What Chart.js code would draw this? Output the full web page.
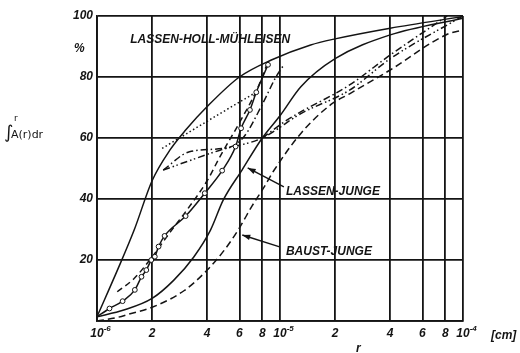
<!DOCTYPE html>
<html lang="de">
<head>
<meta charset="UTF-8">
<title>Verteilungskurven</title>
<script src="https://cdn.jsdelivr.net/npm/chart.js"></script>
<style>
  html, body { margin: 0; padding: 0; background: #fff; }
  #wrap { width: 520px; height: 353px; }
</style>
</head>
<body>
<div id="wrap"><canvas id="grafico" width="520" height="353"></canvas></div>
<script>
// Achsen
var xTicks = [1e-6, 2e-6, 4e-6, 6e-6, 8e-6, 1e-5, 2e-5, 4e-5, 6e-5, 8e-5, 1e-4];
var xTickLabels = ['10', '2', '4', '6', '8', '10', '2', '4', '6', '8', '10'];
var xTickExp = ['-6', '', '', '', '', '-5', '', '', '', '', '-4'];
var yTickLabels = ['', '20', '40', '60', '80', '100'];

// LASSEN-HOLL-MÜHLEISEN (ausgezogen, steil)
var lhmX = [1e-6, 1.3e-6, 1.6e-6, 2e-6, 2.5e-6, 3.05e-6, 4e-6, 6e-6, 8.9e-6, 1.47e-5, 2e-5, 4e-5, 1e-4];
var lhmY = [1.4, 17, 30, 46, 56, 62.6, 70.3, 80, 85.5, 90.5, 92.5, 96, 99.8];

// Messpunkte (Kreise)
var kreisX = [1e-6, 1.17e-6, 1.38e-6, 1.61e-6, 1.75e-6, 1.86e-6, 1.98e-6, 2.07e-6, 2.17e-6, 2.34e-6, 3.05e-6, 3.88e-6, 4.83e-6, 5.72e-6, 6.13e-6, 6.85e-6, 7.42e-6, 8.6e-6];
var kreisY = [1.4, 4.1, 6.5, 10.2, 14.5, 16.7, 20, 21.1, 24.4, 27.9, 34.4, 41.9, 49.3, 57.2, 63.2, 69.2, 75, 84];

// gestrichelt neben den Kreisen
var strichX = [1.29e-6, 1.6e-6, 2e-6, 2.5e-6, 3.1e-6, 4e-6, 4.7e-6, 6e-6, 7.5e-6, 8.6e-6];
var strichY = [9.6, 14, 21, 29, 36.4, 46, 53.9, 65, 76, 85];

// LASSEN-JUNGE (ausgezogen)
var ljX = [1e-6, 1.4e-6, 2e-6, 2.63e-6, 3.38e-6, 4.17e-6, 4.9e-6, 6.2e-6, 8e-6, 1e-5, 1.3e-5, 2e-5, 4e-5, 1e-4];
var ljY = [1.4, 3.6, 7.4, 13.4, 21, 29.8, 39.7, 49.5, 60, 67.3, 76.8, 86, 93.8, 99.3];

// BAUST-JUNGE (gestrichelt)
var bjX = [1e-6, 1.3e-6, 1.5e-6, 2e-6, 3e-6, 4e-6, 5e-6, 6e-6, 7e-6, 8.2e-6, 9.3e-6, 1.3e-5, 1.9e-5, 2.4e-5, 4e-5, 8.2e-5, 1e-4];
var bjY = [0, 1.2, 2.3, 4.5, 10, 16.7, 23.5, 30.5, 37.5, 44, 49.5, 61.5, 71, 74.5, 82.3, 94, 95.4];

// punktiert
var punktX = [2.27e-6, 4.7e-6, 7.4e-6];
var punktY = [56.6, 68, 75];

// strichpunktiert
var sp1X = [2.3e-6, 4.7e-6, 8e-6, 1.3e-5, 2.4e-5, 4e-5, 1e-4];
var sp1Y = [49.5, 56, 60, 68, 75.7, 86, 100];
var sp2X = [2.3e-6, 3.2e-6, 5.3e-6, 6.35e-6, 8e-6, 9.5e-6, 1.05e-5];
var sp2Y = [49.5, 55.5, 57, 60.4, 71, 80, 84];
var sp3X = [8e-6, 1.1e-5, 2.4e-5, 4e-5, 8.2e-5];
var sp3Y = [60, 66, 77.4, 87.2, 100];

function punkte(xs, ys) {
    return xs.map(function (x, i) { return { x: x, y: ys[i] }; });
}

function kurve(xs, ys, dash) {
    return {
        data: punkte(xs, ys),
        showLine: true,
        borderColor: '#141414',
        borderWidth: 1.5,
        borderDash: dash,
        pointRadius: 0,
        cubicInterpolationMode: 'monotone'
    };
}

var kreise = kurve(kreisX, kreisY, []);
kreise.pointRadius = function (ctx) { return ctx.dataIndex === 0 ? 0 : 2.4; };
kreise.pointBackgroundColor = '#fff';
kreise.pointBorderColor = '#141414';
kreise.pointBorderWidth = 1;

var schrift = 'italic bold 12px "Liberation Sans", Arial, sans-serif';
var klein = 'italic bold 8px "Liberation Sans", Arial, sans-serif';

var beschriftung = {
    id: 'beschriftung',
    afterDatasetsDraw: function (chart) {
        var c = chart.ctx, sx = chart.scales.x, sy = chart.scales.y;
        function px(v) { return sx.getPixelForValue(v); }
        function py(v) { return sy.getPixelForValue(v); }
        function pfeil(x1, y1, x2, y2) {
            var a = px(x1), b = py(y1), e = px(x2), f = py(y2);
            var w = Math.atan2(f - b, e - a);
            c.beginPath(); c.moveTo(a, b); c.lineTo(e, f); c.stroke();
            c.beginPath();
            c.moveTo(e, f);
            c.lineTo(e - 8 * Math.cos(w) + 2.8 * Math.sin(w), f - 8 * Math.sin(w) - 2.8 * Math.cos(w));
            c.lineTo(e - 8 * Math.cos(w) - 2.8 * Math.sin(w), f - 8 * Math.sin(w) + 2.8 * Math.cos(w));
            c.closePath(); c.fill();
        }
        c.save();
        c.fillStyle = '#141414';
        c.strokeStyle = '#141414';
        c.lineWidth = 1.4;
        c.font = schrift;
        c.textBaseline = 'middle';
        c.textAlign = 'left';
        c.fillText('LASSEN-HOLL-MÜHLEISEN', px(1.52e-6), py(92.1));
        c.fillText('LASSEN-JUNGE', px(1.077e-5), py(42.3));
        c.fillText('BAUST-JUNGE', px(1.077e-5), py(22.6));
        pfeil(1.05e-5, 44, 6.66e-6, 50.2);
        pfeil(9.96e-6, 24.3, 6.22e-6, 28.2);

        // x-Teilung mit Hochzahlen
        var unten = chart.chartArea.bottom + 13;
        xTicks.forEach(function (v, i) {
            var t = xTickLabels[i], x = px(v);
            c.font = schrift;
            c.textAlign = 'center';
            c.fillText(t, x, unten);
            if (xTickExp[i]) {
                var b = c.measureText(t).width;
                c.font = klein;
                c.textAlign = 'left';
                c.fillText(xTickExp[i], x + b / 2, unten - 5);
            }
        });

        // Achsenbeschriftung
        c.font = schrift;
        c.textAlign = 'left';
        c.fillText('%', 74, 49);
        c.fillText('[cm]', 491, 336);
        c.textBaseline = 'top';
        c.fillText('r', 356, 343);
        c.textBaseline = 'middle';
        c.font = '18px "DejaVu Sans", sans-serif';
        c.fillText('∫', 4, 133);
        c.font = '9px "DejaVu Sans", sans-serif';
        c.fillText('r', 14, 119);
        c.font = '11px "DejaVu Sans", sans-serif';
        c.fillText('A(r)dr', 11, 135);
        c.restore();
    }
};

var achse = { color: '#141414', lineWidth: 1.8, drawTicks: false };

new Chart(document.getElementById('grafico').getContext('2d'), {
    type: 'scatter',
    data: {
        datasets: [
            kurve(lhmX, lhmY, []),
            kreise,
            kurve(strichX, strichY, [6, 4]),
            kurve(ljX, ljY, []),
            kurve(bjX, bjY, [7, 4]),
            kurve(punktX, punktY, [1.5, 2.5]),
            kurve(sp1X, sp1Y, [7, 3, 1.5, 2.5, 1.5, 3]),
            kurve(sp2X, sp2Y, [7, 3, 1.5, 3]),
            kurve(sp3X, sp3Y, [7, 3, 1.5, 3])
        ]
    },
    options: {
        responsive: false,
        animation: false,
        layout: { padding: { top: 16, right: 57, left: 0, bottom: 0 } },
        plugins: { legend: { display: false }, tooltip: { enabled: false } },
        scales: {
            x: {
                type: 'logarithmic',
                min: 1e-6,
                max: 1e-4,
                afterBuildTicks: function (s) { s.ticks = xTicks.map(function (v) { return { value: v }; }); },
                afterFit: function (s) { s.height = 32; },
                grid: achse,
                border: { color: '#141414', width: 1.8 },
                ticks: { display: false, autoSkip: false }
            },
            y: {
                min: 0,
                max: 100,
                afterFit: function (s) { s.width = 97; },
                grid: achse,
                border: { color: '#141414', width: 1.8 },
                ticks: {
                    stepSize: 20, padding: 4, color: '#141414',
                    font: { family: '"Liberation Sans", Arial, sans-serif', size: 12, style: 'italic', weight: 'bold' },
                    callback: function (v, i) { return yTickLabels[i]; }
                }
            }
        }
    },
    plugins: [beschriftung]
});
</script>
</body>
</html>
